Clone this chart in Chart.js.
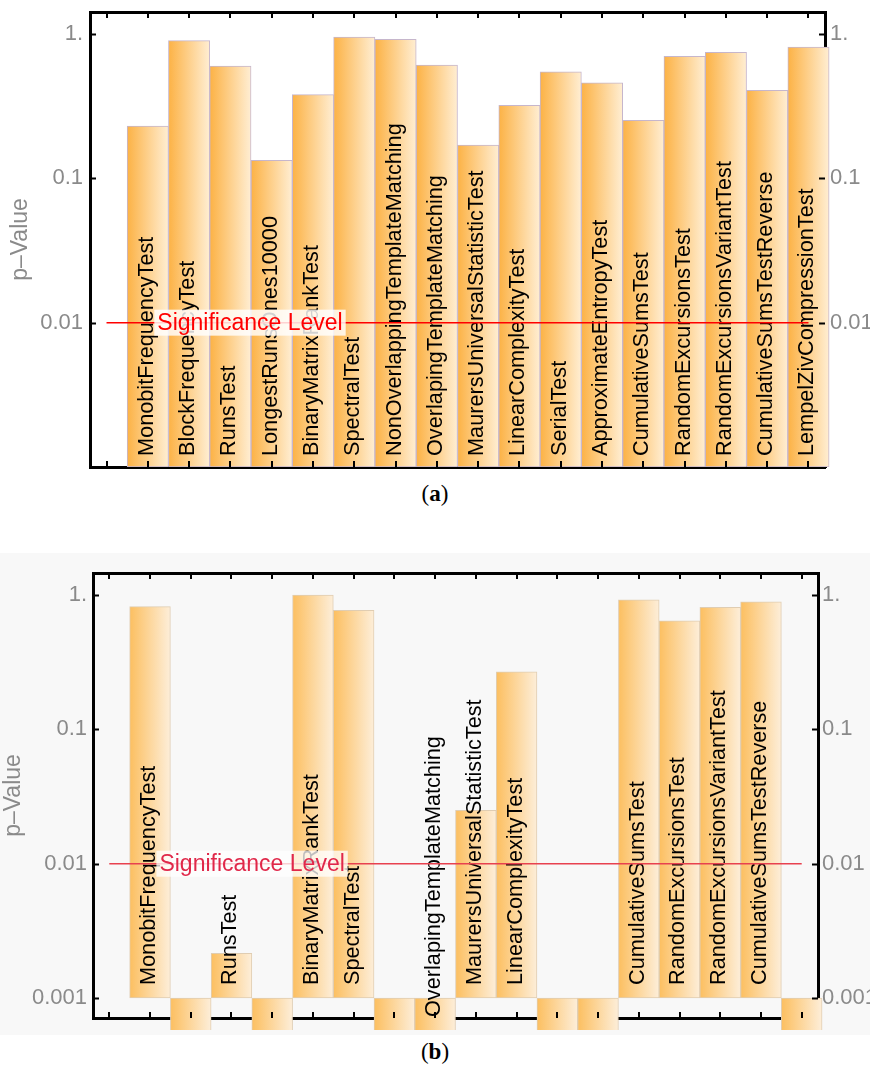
<!DOCTYPE html>
<html>
<head>
<meta charset="utf-8">
<script src="https://cdn.jsdelivr.net/npm/chart.js@4.4.1/dist/chart.umd.min.js"></script>
<style>
  html, body { margin: 0; padding: 0; background: #fff; }
  body { width: 870px; height: 1073px; position: relative; overflow: hidden; }
  .panel { position: absolute; left: 0; width: 870px; }
  #panel-a { top: 0; height: 480px; }
  #panel-b { top: 553px; height: 482px; background: #f8f8f8; }
  .cap { position: absolute; left: 0; width: 870px; text-align: center; line-height: 26px;
         font-family: 'Liberation Serif', 'DejaVu Serif', serif; font-size: 23px; color: #000; }
</style>
</head>
<body>
<div class="panel" id="panel-a"><canvas id="chart-a"></canvas></div>
<div class="cap" style="top:481px">(<b>a</b>)</div>
<div class="panel" id="panel-b"><canvas id="chart-b"></canvas></div>
<div class="cap" style="top:1039px">(<b>b</b>)</div>
<script>
const FONT = "'Liberation Sans', Arial, sans-serif";

// NIST tests, in plot order
const testsA = ['MonobitFrequencyTest', 'BlockFrequencyTest', 'RunsTest', 'LongestRunsOnes10000',
  'BinaryMatrixRankTest', 'SpectralTest', 'NonOverlappingTemplateMatching', 'OverlapingTemplateMatching',
  'MaurersUniversalStatisticTest', 'LinearComplexityTest', 'SerialTest', 'ApproximateEntropyTest',
  'CumulativeSumsTest', 'RandomExcursionsTest', 'RandomExcursionsVariantTest', 'CumulativeSumsTestReverse',
  'LempelZivCompressionTest'];
const pValuesA = [0.23, 0.90, 0.60, 0.133, 0.38, 0.95, 0.92, 0.61, 0.17, 0.32, 0.546, 0.458, 0.252, 0.70, 0.746, 0.407, 0.81];

// (b): failed tests have no label and fall below the 0.001 floor
const testsB = ['MonobitFrequencyTest', '', 'RunsTest', '', 'BinaryMatrixRankTest', 'SpectralTest', '',
  'OverlapingTemplateMatching', 'MaurersUniversalStatisticTest', 'LinearComplexityTest', '', '',
  'CumulativeSumsTest', 'RandomExcursionsTest', 'RandomExcursionsVariantTest', 'CumulativeSumsTestReverse', ''];
const pValuesB = [0.82, 0.0001, 0.00215, 0.0001, 1.0, 0.77, 0.0001, 0.0001, 0.025, 0.268, 0.0001, 0.0001, 0.92, 0.644, 0.81, 0.89, 0.0001];

const yTicksA = [0.01, 0.1, 1];
const yTickLabelsA = ['0.01', '0.1', '1.'];
const yTicksB = [0.001, 0.01, 0.1, 1];
const yTickLabelsB = ['0.001', '0.01', '0.1', '1.'];
const xTicks = [0, 1, 2, 3, 4, 5, 6, 7, 8, 9, 10, 11, 12, 13, 14, 15, 16, 17];

const SIG_LEVEL = 0.01;
const SIG_SPAN = [0, 17];
const SIG_TEXT = 'Significance Level';
const BAR_BASE = 0.001;

Chart.defaults.font.family = FONT;

const decorations = {
  id: 'decorations',
  afterDatasetDraw(chart, args, o) {
    if (args.meta.type !== 'bar') return;
    const { ctx, chartArea } = chart;
    ctx.save();
    ctx.font = '21.7px ' + FONT;
    ctx.fillStyle = '#000';
    ctx.textAlign = 'left';
    ctx.textBaseline = 'middle';
    args.meta.data.forEach((bar, i) => {
      if (!o.labels[i]) return;
      const bottom = Math.min(Math.max(bar.y, bar.base), chartArea.bottom + o.clipBottom);
      ctx.save();
      ctx.translate(bar.x - 1, bottom - o.labelGap);
      ctx.rotate(-Math.PI / 2);
      ctx.fillText(o.labels[i], 0, 0);
      ctx.restore();
    });
    ctx.restore();
  },
  afterDatasetsDraw(chart, args, o) {
    const { ctx, scales: { x, y } } = chart;
    const px = x.getPixelForValue(o.sigAt);
    const py = y.getPixelForValue(SIG_LEVEL);
    ctx.save();
    ctx.font = '23px ' + FONT;
    const w = ctx.measureText(SIG_TEXT).width;
    ctx.fillStyle = o.boxColor;
    ctx.fillRect(px - 3, py - 13, w + 6, 26);
    ctx.fillStyle = o.sigColor;
    ctx.textAlign = 'left';
    ctx.textBaseline = 'middle';
    ctx.fillText(SIG_TEXT, px, py + 1);
    ctx.restore();
  },
  afterDraw(chart, args, o) {
    const { ctx, chartArea: a, scales: { x, y } } = chart;
    const len = 6;
    ctx.save();
    ctx.strokeStyle = '#000';
    ctx.lineWidth = 2;
    ctx.beginPath();
    x.ticks.forEach((t) => {
      const p = Math.round(x.getPixelForValue(t.value));
      ctx.moveTo(p, a.bottom); ctx.lineTo(p, a.bottom - len);
      ctx.moveTo(p, a.top); ctx.lineTo(p, a.top + len);
    });
    y.ticks.forEach((t) => {
      const p = Math.round(y.getPixelForValue(t.value)) + 0.5;
      ctx.moveTo(a.left, p); ctx.lineTo(a.left + len, p);
      ctx.moveTo(a.right, p); ctx.lineTo(a.right - len, p);
    });
    ctx.stroke();
    ctx.restore();
  }
};

function barFill(from, to) {
  return (c) => {
    const chart = c.chart;
    const xs = chart.scales.x;
    if (!chart.chartArea || !xs || !c.raw) return from;
    const cx = xs.getPixelForValue(c.raw.x);
    const half = Math.abs(xs.getPixelForValue(1) - xs.getPixelForValue(0)) / 2;
    const g = chart.ctx.createLinearGradient(cx - half, 0, cx + half, 0);
    g.addColorStop(0, from);
    g.addColorStop(1, to);
    return g;
  };
}

function buildChart(id, o) {
  const fixWidth = (w) => (s) => { s.width = w; s.paddingTop = 0; s.paddingBottom = 0; };
  const fixHeight = (h) => (s) => { s.height = h; s.paddingLeft = 0; s.paddingRight = 0; };

  const xAxis = (position, height) => ({
    type: 'linear', position, min: -0.4, max: 17.4, offset: false, z: 1,
    grid: { display: false, drawTicks: false, offset: false },
    border: { display: true, color: '#000', width: 3 },
    ticks: { display: false },
    afterBuildTicks: (s) => { s.ticks = xTicks.map((v) => ({ value: v })); },
    afterFit: fixHeight(height)
  });

  const yAxis = (position, width, pad, title) => ({
    type: 'logarithmic', position, min: o.yMin, max: o.yMax, z: 1,
    grid: { display: false, drawTicks: false },
    border: { display: true, color: '#000', width: 3 },
    ticks: {
      color: '#8a8a8a', padding: pad, autoSkip: false, font: { size: 22 },
      callback: (v, i) => o.tickLabels[i]
    },
    afterBuildTicks: (s) => { s.ticks = o.ticks.map((v) => ({ value: v })); },
    afterFit: fixWidth(width),
    title: title
  });

  return new Chart(document.getElementById(id), {
    data: {
      datasets: [
        {
          type: 'bar',
          order: 2,
          data: o.values.map((v, i) => ({ x: i + 1, y: v })),
          base: BAR_BASE,
          barPercentage: 1,
          categoryPercentage: 1,
          backgroundColor: barFill(o.fill[0], o.fill[1]),
          borderColor: o.edge,
          borderWidth: 1,
          borderSkipped: false,
          clip: { left: 0, top: 0, right: 6, bottom: o.clipBottom }
        },
        {
          type: 'line',
          order: 1,
          data: SIG_SPAN.map((x) => ({ x, y: SIG_LEVEL })),
          borderColor: o.lineColor,
          borderWidth: 1.5,
          pointRadius: 0
        }
      ]
    },
    options: {
      responsive: true,
      maintainAspectRatio: false,
      animation: false,
      layout: { padding: 0 },
      scales: {
        x: xAxis('bottom', o.box.bottom),
        xTop: xAxis('top', o.box.top),
        y: yAxis('left', o.box.left, o.box.padL, {
          display: true, text: 'p\u2013Value', color: '#8a8a8a',
          font: { size: 23 }, padding: { top: o.titlePad, bottom: 0 }
        }),
        yRight: yAxis('right', o.box.right, o.box.padR, { display: false })
      },
      plugins: {
        legend: { display: false },
        tooltip: { enabled: false },
        decorations: {
          labels: o.labels, labelGap: o.labelGap, clipBottom: o.clipBottom,
          sigAt: 1.23, sigColor: o.sigColor, boxColor: o.boxColor
        }
      }
    },
    plugins: [decorations]
  });
}

buildChart('chart-a', {
  values: pValuesA, labels: testsA, ticks: yTicksA, tickLabels: yTickLabelsA,
  yMin: 0.001, yMax: 1.42,
  box: { left: 90, right: 45, top: 12, bottom: 13, padL: 7, padR: 5 },
  titlePad: 7, labelGap: 11, clipBottom: 0,
  fill: ['#fcb245', '#ffeed3'], edge: '#c6b6cc',
  lineColor: '#ff0000', sigColor: '#ff0000', boxColor: 'rgba(255,255,255,0.82)'
});

buildChart('chart-b', {
  values: pValuesB, labels: testsB, ticks: yTicksB, tickLabels: yTickLabelsB,
  yMin: 0.00071, yMax: 1.46,
  box: { left: 93, right: 52, top: 20, bottom: 17, padL: 6, padR: 4 },
  titlePad: 0, labelGap: 13, clipBottom: 12,
  fill: ['#fcbf60', '#fdeed9'], edge: '#e0cdb2',
  lineColor: '#e8414f', sigColor: '#e0284a', boxColor: 'rgba(255,255,255,0.75)'
});
</script>
</body>
</html>
